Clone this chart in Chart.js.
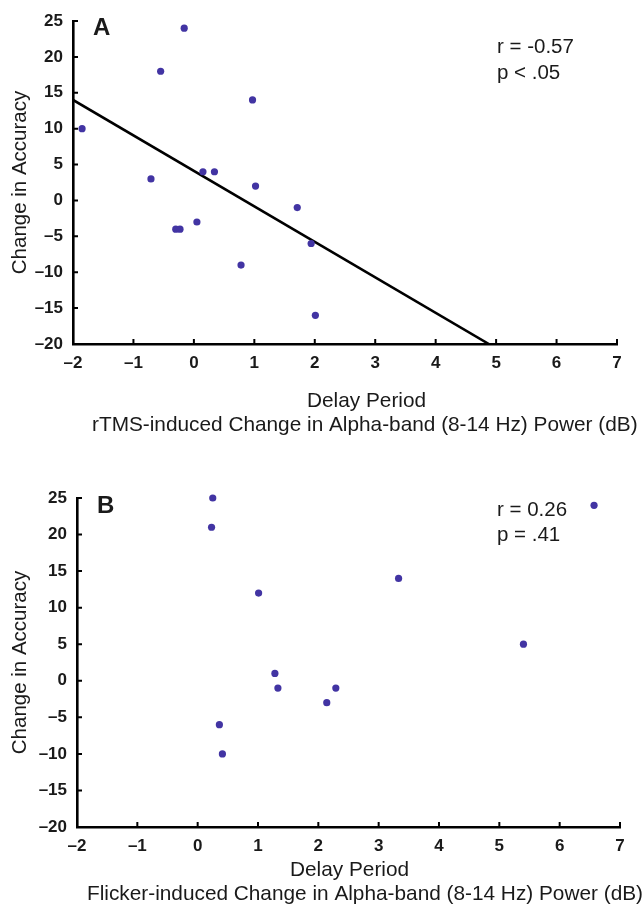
<!DOCTYPE html>
<html>
<head>
<meta charset="utf-8">
<script src="https://cdn.jsdelivr.net/npm/chart.js@4.4.1/dist/chart.umd.min.js"></script>
<style>
  html, body { margin: 0; padding: 0; background: #fff; }
  #wrapA { position: absolute; left: 0; top: 0; width: 644px; height: 450px; }
  #wrapB { position: absolute; left: 0; top: 450px; width: 644px; height: 456px; }
</style>
</head>
<body>
<div id="wrapA"><canvas id="panelA"></canvas></div>
<div id="wrapB"><canvas id="panelB"></canvas></div>
<script>
// panel A - rTMS-induced change
const rtmsX = [-1.85, -0.71, -0.55, -0.16, -0.30, -0.23, 0.05, 0.15, 0.34, 0.78, 0.97, 1.02, 1.71, 1.94, 2.01];
const rtmsY = [10, 3, 18, 24, -4, -4, -3, 4, 4, -9, 14, 2, -1, -6, -16];
// regression line end points
const fitX = [-2, 4.88];
const fitY = [14, -20];

// panel B - flicker-induced change
const flickX = [0.25, 0.23, 1.01, 1.28, 1.33, 2.14, 0.36, 0.41, 2.29, 6.57, 3.33, 5.40];
const flickY = [25, 21, 12, 1, -1, -3, -6, -10, -1, 24, 14, 5];

// ticks
const xTicks = [-2, -1, 0, 1, 2, 3, 4, 5, 6, 7];
const yTicks = [-20, -15, -10, -5, 0, 5, 10, 15, 20, 25];

const dotColor = "#4234a3";
const FONT = "'Liberation Sans', Arial, Helvetica, sans-serif";

const pairs = (xs, ys) => xs.map((x, i) => ({ x: x, y: ys[i] }));
const dash = v => String(v).replace("-", "\u2013");

// tick marks pointing into the plot
const inwardTicks = {
    id: "inwardTicks",
    afterDraw(chart) {
        const { ctx, chartArea } = chart;
        const x = chart.scales.x, y = chart.scales.y;
        ctx.save();
        ctx.strokeStyle = "#000";
        ctx.lineWidth = 2;
        ctx.beginPath();
        x.ticks.forEach(t => {
            const px = x.getPixelForValue(t.value);
            ctx.moveTo(px, chartArea.bottom);
            ctx.lineTo(px, chartArea.bottom - 5);
        });
        y.ticks.forEach(t => {
            const py = y.getPixelForValue(t.value);
            ctx.moveTo(chartArea.left, py);
            ctx.lineTo(chartArea.left + 5, py);
        });
        ctx.stroke();
        ctx.restore();
    }
};

// panel letter, stats and the x axis caption
const notes = {
    id: "notes",
    afterDraw(chart, args, opts) {
        const ctx = chart.ctx;
        ctx.save();
        ctx.fillStyle = "#1a1a1a";
        ctx.textBaseline = "alphabetic";
        ctx.textAlign = "left";
        (opts.items || []).forEach(it => {
            ctx.font = (it.bold ? "bold " : "") + it.size + "px " + FONT;
            ctx.fillText(it.text, it.x, it.y);
        });
        ctx.restore();
    }
};

function panel(canvasId, xs, ys, withFit, box, items) {
    const datasets = [{
        type: "scatter",
        data: pairs(xs, ys),
        backgroundColor: dotColor,
        borderColor: dotColor,
        pointRadius: 3.6,
        borderWidth: 0,
        clip: false
    }];
    if (withFit) {
        datasets.push({
            type: "line",
            data: pairs(fitX, fitY),
            borderColor: "#000",
            borderWidth: 2.6,
            pointRadius: 0,
            fill: false
        });
    }
    return new Chart(document.getElementById(canvasId), {
        type: "scatter",
        data: { datasets: datasets },
        plugins: [inwardTicks, notes],
        options: {
            responsive: true,
            maintainAspectRatio: false,
            animation: false,
            layout: { padding: { top: box.top, right: box.right, left: 0, bottom: 0 } },
            plugins: {
                legend: { display: false },
                tooltip: { enabled: false },
                notes: { items: items }
            },
            scales: {
                x: {
                    type: "linear",
                    min: xTicks[0],
                    max: xTicks[xTicks.length - 1],
                    afterBuildTicks: s => { s.ticks = xTicks.map(v => ({ value: v })); },
                    afterFit: s => { s.height = box.xh; },
                    grid: { display: false, drawTicks: false },
                    border: { display: true, color: "#000", width: 2.6 },
                    ticks: {
                        padding: box.xpad,
                        color: "#1a1a1a",
                        font: { family: FONT, size: 17, weight: "bold" },
                        callback: dash
                    }
                },
                y: {
                    type: "linear",
                    min: yTicks[0],
                    max: yTicks[yTicks.length - 1],
                    afterBuildTicks: s => { s.ticks = yTicks.map(v => ({ value: v })); },
                    afterFit: s => { s.width = box.yw; },
                    grid: { display: false, drawTicks: false },
                    border: { display: true, color: "#000", width: 2.6 },
                    ticks: {
                        padding: 10,
                        color: "#1a1a1a",
                        font: { family: FONT, size: 17, weight: "bold" },
                        callback: dash
                    },
                    title: {
                        display: true,
                        text: "Change in Accuracy",
                        color: "#1a1a1a",
                        font: { family: FONT, size: 20.5 },
                        padding: { top: 8, bottom: 0 }
                    }
                }
            }
        }
    });
}

panel("panelA", rtmsX, rtmsY, true,
    { top: 21, right: 27, yw: 73, xh: 106, xpad: 9 },
    [
        { text: "A", x: 93, y: 35, size: 24, bold: true },
        { text: "r = -0.57", x: 497, y: 53, size: 20.5 },
        { text: "p < .05", x: 497, y: 79, size: 20.5 },
        { text: "Delay Period", x: 307, y: 407, size: 20.8 },
        { text: "rTMS-induced Change in Alpha-band (8-14 Hz) Power (dB)", x: 92, y: 431, size: 20.8 }
    ]);

panel("panelB", flickX, flickY, false,
    { top: 48, right: 24, yw: 77, xh: 79, xpad: 9 },
    [
        { text: "B", x: 97, y: 63, size: 24, bold: true },
        { text: "r = 0.26", x: 497, y: 66, size: 20.5 },
        { text: "p = .41", x: 497, y: 91, size: 20.5 },
        { text: "Delay Period", x: 290, y: 426, size: 20.8 },
        { text: "Flicker-induced Change in Alpha-band (8-14 Hz) Power (dB)", x: 87, y: 450, size: 20.8 }
    ]);
</script>
</body>
</html>
